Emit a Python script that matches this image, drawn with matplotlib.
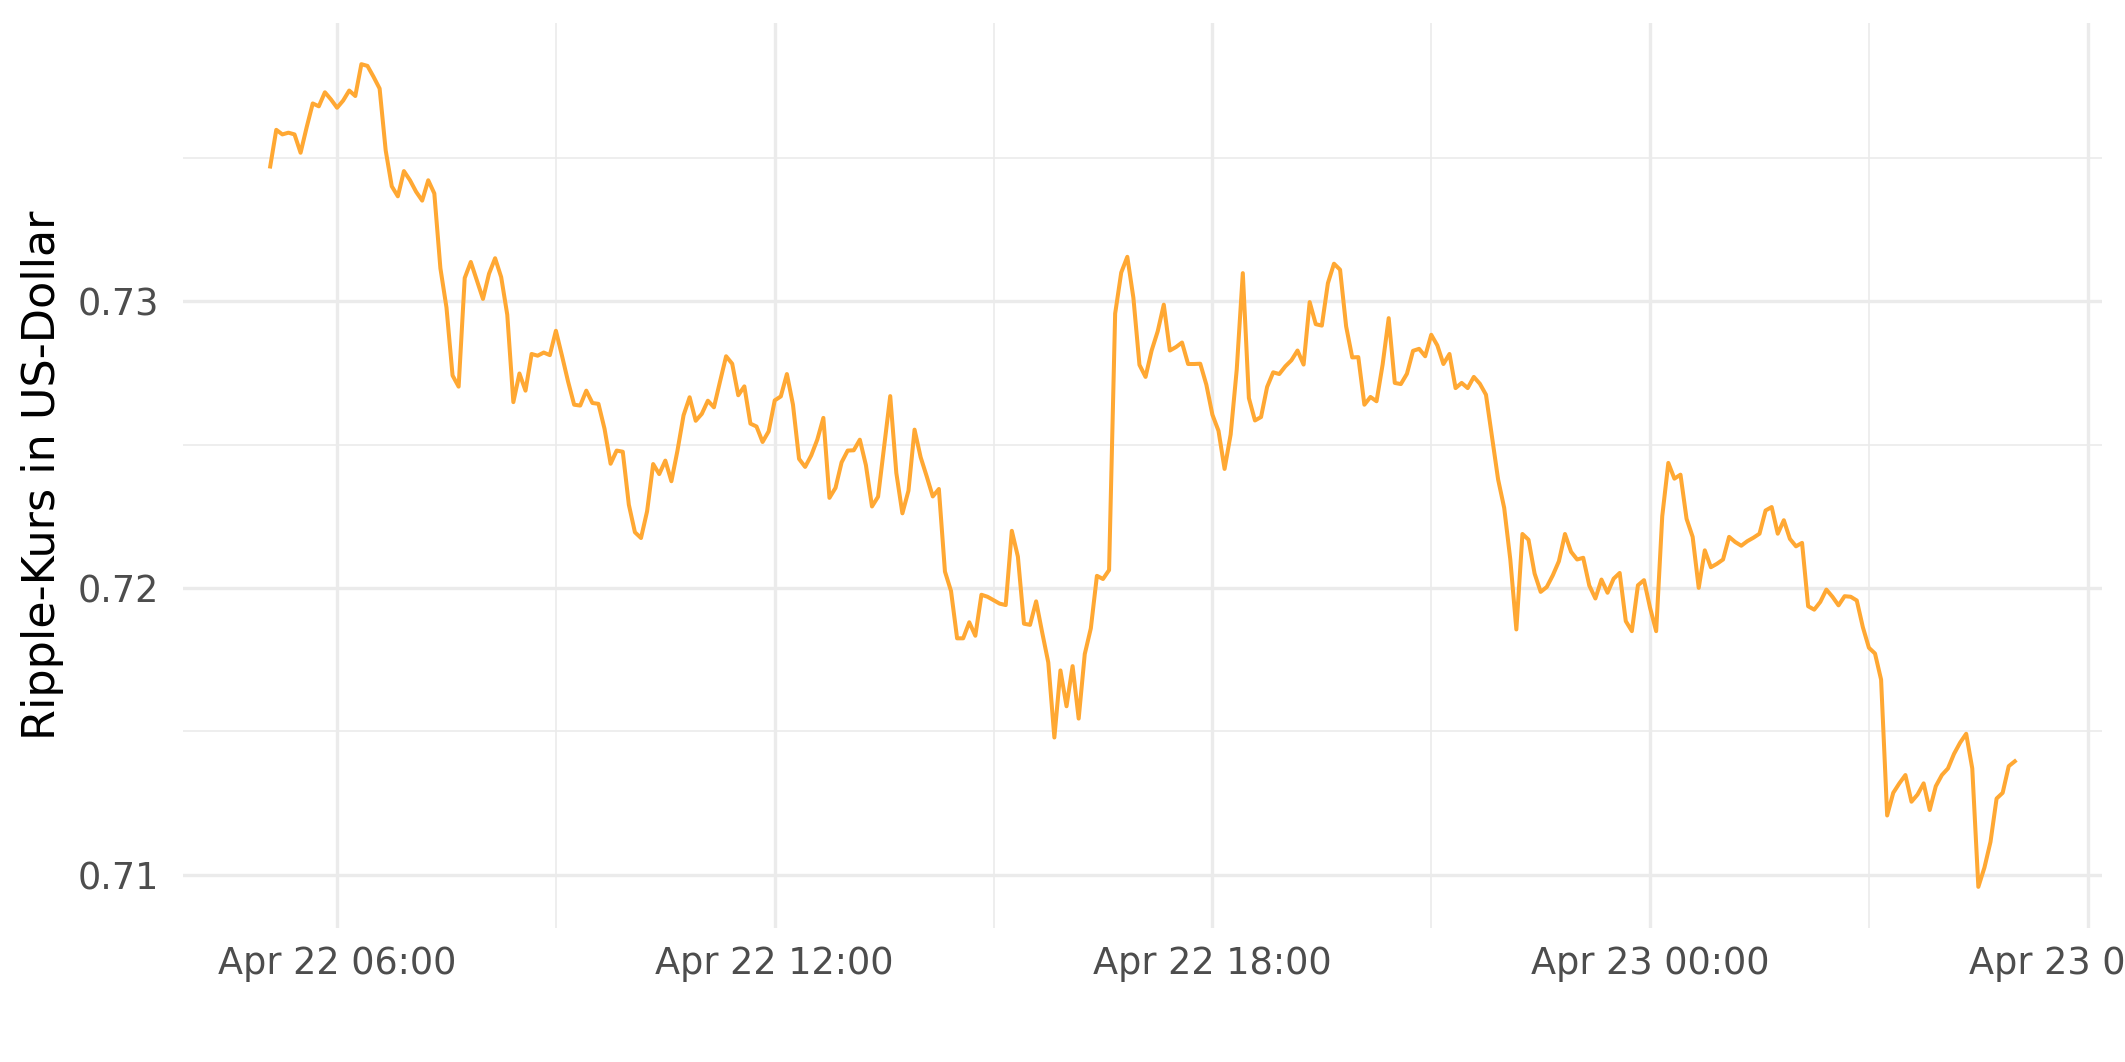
import numpy as np
import pandas as pd
import matplotlib
matplotlib.use('Agg')
import matplotlib.pyplot as plt
import matplotlib.dates as mdates
from matplotlib.ticker import MultipleLocator, FormatStrFormatter

# Ripple (XRP) price in USD, 5-minute steps starting Apr 22 05:05
start = '2022-04-22 05:05'
kurs = [
    0.73470, 0.73598, 0.73582, 0.73588, 0.73582, 0.73518, 0.73607, 0.73690, 0.73680, 0.73729,
    0.73704, 0.73675, 0.73700, 0.73735, 0.73716, 0.73827, 0.73821, 0.73783, 0.73742, 0.73526,
    0.73401, 0.73366, 0.73454, 0.73422, 0.73382, 0.73351, 0.73422, 0.73376, 0.73115, 0.72978,
    0.72741, 0.72702, 0.73081, 0.73137, 0.73072, 0.73008, 0.73096, 0.73150, 0.73084, 0.72953,
    0.72648, 0.72748, 0.72688, 0.72816, 0.72810, 0.72821, 0.72812, 0.72897, 0.72810, 0.72720,
    0.72639, 0.72636, 0.72688, 0.72645, 0.72642, 0.72555, 0.72433, 0.72479, 0.72475, 0.72290,
    0.72194, 0.72174, 0.72267, 0.72432, 0.72397, 0.72444, 0.72372, 0.72479, 0.72602, 0.72665,
    0.72583, 0.72607, 0.72653, 0.72630, 0.72720, 0.72808, 0.72782, 0.72672, 0.72703, 0.72573,
    0.72563, 0.72509, 0.72546, 0.72654, 0.72668, 0.72746, 0.72639, 0.72450, 0.72422, 0.72462,
    0.72517, 0.72593, 0.72314, 0.72349, 0.72438, 0.72479, 0.72480, 0.72517, 0.72428, 0.72284,
    0.72318, 0.72495, 0.72669, 0.72401, 0.72260, 0.72339, 0.72552, 0.72456, 0.72389, 0.72319,
    0.72345, 0.72057, 0.71989, 0.71824, 0.71824, 0.71880, 0.71833, 0.71976, 0.71969, 0.71957,
    0.71945, 0.71940, 0.72199, 0.72109, 0.71875, 0.71871, 0.71953, 0.71844, 0.71740, 0.71478,
    0.71712, 0.71587, 0.71727, 0.71544, 0.71769, 0.71859, 0.72042, 0.72031, 0.72062, 0.72957,
    0.73100, 0.73155, 0.73012, 0.72778, 0.72736, 0.72828, 0.72895, 0.72988, 0.72828, 0.72840,
    0.72856, 0.72781, 0.72781, 0.72782, 0.72709, 0.72604, 0.72548, 0.72415, 0.72535, 0.72761,
    0.73098, 0.72662, 0.72584, 0.72596, 0.72701, 0.72752, 0.72746, 0.72773, 0.72794, 0.72828,
    0.72779, 0.72997, 0.72920, 0.72915, 0.73063, 0.73131, 0.73110, 0.72912, 0.72804, 0.72805,
    0.72639, 0.72666, 0.72651, 0.72779, 0.72941, 0.72715, 0.72711, 0.72747, 0.72827, 0.72834,
    0.72808, 0.72883, 0.72846, 0.72781, 0.72816, 0.72697, 0.72715, 0.72697, 0.72736, 0.72712,
    0.72674, 0.72526, 0.72378, 0.72279, 0.72100, 0.71855, 0.72188, 0.72168, 0.72050, 0.71986,
    0.72003, 0.72044, 0.72093, 0.72188, 0.72126, 0.72099, 0.72105, 0.72008, 0.71963, 0.72029,
    0.71983, 0.72032, 0.72052, 0.71884, 0.71849, 0.72009, 0.72027, 0.71930, 0.71849, 0.72250,
    0.72436, 0.72381, 0.72395, 0.72241, 0.72178, 0.72000, 0.72131, 0.72072, 0.72084, 0.72099,
    0.72178, 0.72160, 0.72147, 0.72163, 0.72175, 0.72189, 0.72270, 0.72282, 0.72189, 0.72236,
    0.72171, 0.72145, 0.72157, 0.71936, 0.71924, 0.71951, 0.71994, 0.71969, 0.71939, 0.71971,
    0.71969, 0.71956, 0.71863, 0.71791, 0.71771, 0.71680, 0.71206, 0.71285, 0.71318, 0.71347,
    0.71254, 0.71279, 0.71318, 0.71225, 0.71308, 0.71347, 0.71370, 0.71421, 0.71460, 0.71491,
    0.71370, 0.70957, 0.71024, 0.71114, 0.71265, 0.71285, 0.71378, 0.71395,
]
zeit = pd.date_range(start, periods=len(kurs), freq='5min')

fig = plt.figure(figsize=(10.625, 5.31), dpi=200)
ax = fig.add_axes([0.0861, 0.1262, 0.9031, 0.8521])

ax.plot(zeit, kurs, color='#FFA833', lw=1.45, solid_joinstyle='round', zorder=3)

# ggplot-like 5% expansion
span = zeit[-1] - zeit[0]
ax.set_xlim(zeit[0] - 0.05 * span, zeit[-1] + 0.05 * span)
lo, hi = min(kurs), max(kurs)
ax.set_ylim(lo - 0.05 * (hi - lo), hi + 0.05 * (hi - lo))

ax.xaxis.set_major_locator(mdates.HourLocator(byhour=[0, 6, 12, 18]))
ax.xaxis.set_minor_locator(mdates.HourLocator(byhour=[3, 9, 15, 21]))
ax.xaxis.set_major_formatter(mdates.DateFormatter('%b %d %H:%M'))
ax.yaxis.set_major_locator(MultipleLocator(0.01))
ax.yaxis.set_minor_locator(MultipleLocator(0.005))
ax.yaxis.set_major_formatter(FormatStrFormatter('%.2f'))

ax.grid(which='major', color='#EBEBEB', lw=1.2)
ax.grid(which='minor', color='#EBEBEB', lw=0.6)
ax.set_axisbelow(True)
for s in ax.spines.values():
    s.set_visible(False)

ax.tick_params(which='both', length=0)
ax.tick_params(axis='x', labelsize=13.2, labelcolor='#4D4D4D', pad=6.0)
ax.tick_params(axis='y', labelsize=13.2, labelcolor='#4D4D4D', pad=8.6)

ax.set_ylabel('Ripple-Kurs in US-Dollar', fontsize=16, color='black')
ax.yaxis.label.set_va('baseline')
ax.yaxis.set_label_coords(-0.0667, 0.5)

fig.savefig('out.png', dpi=200)
